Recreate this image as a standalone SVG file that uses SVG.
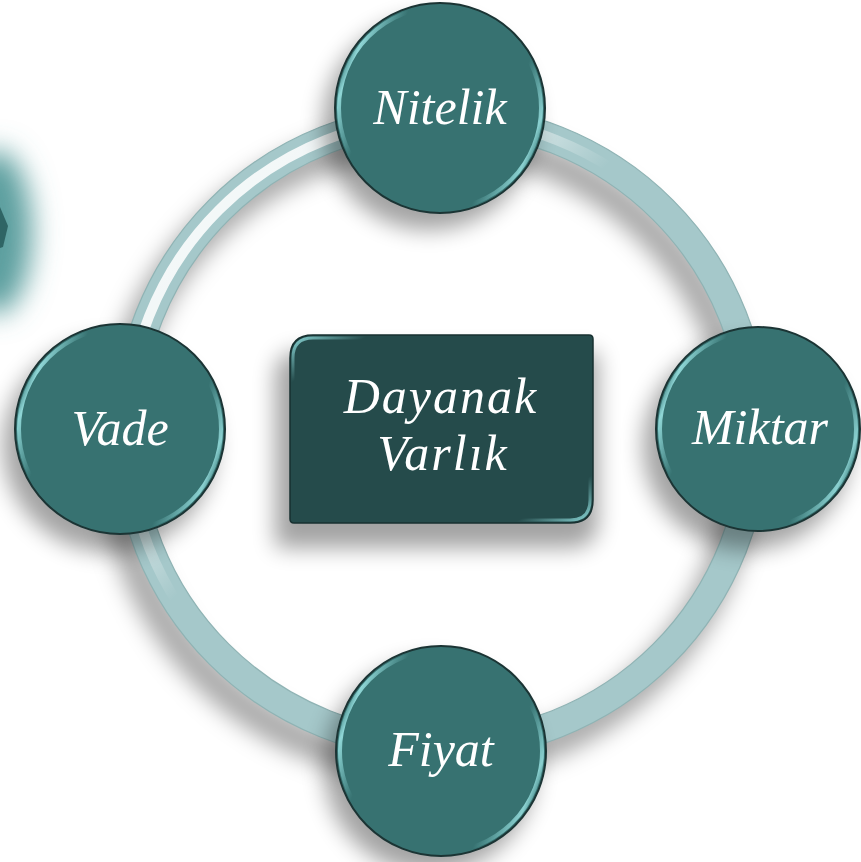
<svg xmlns="http://www.w3.org/2000/svg" width="861" height="862" viewBox="0 0 861 862">
  <defs>
    <filter id="shadow" x="-30%" y="-30%" width="160%" height="160%">
      <feGaussianBlur stdDeviation="11"/>
    </filter>
    <filter id="glow" x="-100%" y="-100%" width="300%" height="300%">
      <feGaussianBlur stdDeviation="14"/>
    </filter>
    <linearGradient id="ringHl" x1="0" y1="0" x2="1" y2="1">
      <stop offset="0" stop-color="#ffffff" stop-opacity="0.95"/>
      <stop offset="0.28" stop-color="#ffffff" stop-opacity="0.8"/>
      <stop offset="0.42" stop-color="#ffffff" stop-opacity="0"/>
      <stop offset="1" stop-color="#ffffff" stop-opacity="0"/>
    </linearGradient>
    <linearGradient id="bevel" x1="0" y1="0.3" x2="1" y2="0.7">
      <stop offset="0" stop-color="#8fe0e0" stop-opacity="0"/>
      <stop offset="0.05" stop-color="#9fe8e8" stop-opacity="0.85"/>
      <stop offset="0.2" stop-color="#8fe0e0" stop-opacity="0"/>
      <stop offset="0.8" stop-color="#8fe0e0" stop-opacity="0"/>
      <stop offset="0.95" stop-color="#9fe8e8" stop-opacity="0.8"/>
      <stop offset="1" stop-color="#8fe0e0" stop-opacity="0"/>
    </linearGradient>
    <linearGradient id="rectBevel" x1="0" y1="0" x2="1" y2="1">
      <stop offset="0" stop-color="#8fdede" stop-opacity="0.9"/>
      <stop offset="0.12" stop-color="#8fdede" stop-opacity="0"/>
      <stop offset="0.88" stop-color="#8fdede" stop-opacity="0"/>
      <stop offset="1" stop-color="#8fdede" stop-opacity="0.9"/>
    </linearGradient>
  </defs>
  <style>
    .node { fill: #377271; stroke: #1b3434; stroke-width: 2; }
    .bev { fill: none; stroke: url(#bevel); stroke-width: 4; }
    .shd { fill: #000; opacity: 0.36; filter: url(#shadow); }
    .lbl { font-family: "Liberation Serif", "Times New Roman", serif; font-style: italic; fill: #ffffff; text-anchor: middle; font-size: 50px; }
    .center-lbl { font-size: 50px; letter-spacing: 2px; }
  </style>

  <rect width="861" height="862" fill="#ffffff"/>

  <!-- partial shape at left edge -->
  <g id="left-fragment">
    <ellipse cx="-4" cy="232" rx="36" ry="82" fill="#5c9f9f" filter="url(#glow)"/>
    <polygon points="0,207 8,226 3,247 0,248" fill="#2f6565"/>
  </g>

  <!-- connectors: ring -->
  <g id="connectors">
    <circle cx="429" cy="452" r="314" fill="none" stroke="#000" stroke-opacity="0.33" stroke-width="34" filter="url(#shadow)"/>
    <circle cx="441" cy="432" r="314" fill="none" stroke="#a5c8ca" stroke-width="28"/>
    <circle cx="441" cy="432" r="328" fill="none" stroke="#8fb3b4" stroke-width="1.2"/>
    <circle cx="441" cy="432" r="300" fill="none" stroke="#8fb3b4" stroke-width="1.2"/>
    <circle cx="441" cy="432" r="314" fill="none" stroke="url(#ringHl)" stroke-width="10"/>
  </g>

  <!-- center node -->
  <g id="node-dayanak">
    <path class="shd" d="M300,352 H592 Q598,352 598,358 V520 Q598,548 570,548 H282 Q275,548 275,541 V378 Q275,352 300,352 Z"/>
    <path d="M313,335 H589 Q593,335 593,339 V500 Q593,523 570,523 H294 Q290,523 290,519 V358 Q290,335 313,335 Z" fill="#254b4b" stroke="#173030" stroke-width="1.5"/>
    <path d="M313,338 H588 Q590,338 590,340 V500 Q590,520 570,520 H295 Q293,520 293,518 V358 Q293,338 313,338 Z" fill="none" stroke="url(#rectBevel)" stroke-width="3"/>
    <text class="lbl center-lbl" x="441" y="413">Dayanak</text>
    <text class="lbl center-lbl" x="443" y="470">Varlık</text>
  </g>

  <!-- Nitelik -->
  <g id="node-nitelik">
    <circle class="shd" cx="429" cy="124" r="106"/>
    <circle class="node" cx="440" cy="108" r="105"/>
    <circle class="bev" cx="440" cy="108" r="101"/>
    <text class="lbl" x="440" y="124">Nitelik</text>
  </g>

  <!-- Miktar -->
  <g id="node-miktar">
    <circle class="shd" cx="747" cy="446" r="104"/>
    <circle class="node" cx="758" cy="429" r="102"/>
    <circle class="bev" cx="758" cy="429" r="98"/>
    <text class="lbl" x="760" y="444">Miktar</text>
  </g>

  <!-- Vade -->
  <g id="node-vade">
    <circle class="shd" cx="109" cy="446" r="106"/>
    <circle class="node" cx="120" cy="429" r="105"/>
    <circle class="bev" cx="120" cy="429" r="101"/>
    <text class="lbl" x="120" y="445">Vade</text>
  </g>

  <!-- Fiyat -->
  <g id="node-fiyat">
    <circle class="shd" cx="430" cy="767" r="106"/>
    <circle class="node" cx="441" cy="751" r="105"/>
    <circle class="bev" cx="441" cy="751" r="101"/>
    <text class="lbl" x="441" y="766">Fiyat</text>
  </g>
</svg>
